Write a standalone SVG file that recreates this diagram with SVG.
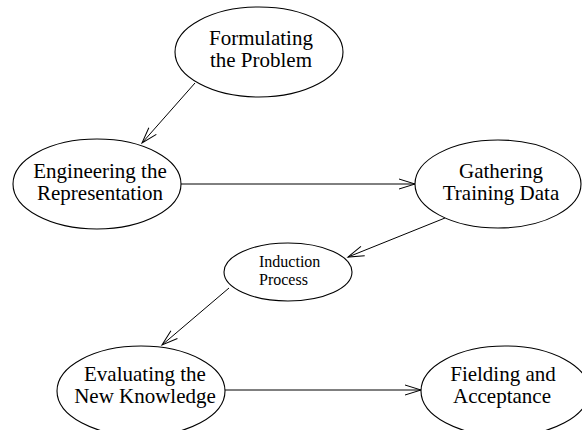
<svg xmlns="http://www.w3.org/2000/svg" width="582" height="430" viewBox="0 0 582 430">
  <style>
    .node ellipse { fill: #ffffff; stroke: #000000; stroke-width: 1.1; }
    .node text { font-family: "Liberation Serif", "Times New Roman", serif; font-size: 21px; fill: #000000; text-anchor: middle; }
    .node text.small { font-size: 16px; text-anchor: start; }
    .edge { stroke: #000000; stroke-width: 1; fill: none; marker-end: url(#arrow); }
  </style>
  <defs>
    <marker id="arrow" markerUnits="userSpaceOnUse" markerWidth="20" markerHeight="14" refX="17" refY="6" orient="auto">
      <path d="M1,1 L17,6 L1,11" fill="none" stroke="#000000" stroke-width="1"/>
    </marker>
  </defs>
  <rect width="582" height="430" fill="#ffffff"/>

  <g id="connectors">
    <line class="edge" x1="195" y1="83" x2="142" y2="143"/>
    <line class="edge" x1="181" y1="184" x2="415" y2="184"/>
    <line class="edge" x1="445" y1="218" x2="348" y2="257"/>
    <line class="edge" x1="229" y1="288" x2="162" y2="345"/>
    <line class="edge" x1="225" y1="390" x2="421" y2="390"/>
  </g>

  <g id="formulating" class="node">
    <ellipse cx="259" cy="52" rx="84" ry="45"/>
    <text x="261" y="45">Formulating</text>
    <text x="261" y="67">the Problem</text>
  </g>

  <g id="engineering" class="node">
    <ellipse cx="97" cy="184" rx="84" ry="45"/>
    <text x="100" y="178">Engineering the</text>
    <text x="100" y="200">Representation</text>
  </g>

  <g id="gathering" class="node">
    <ellipse cx="498" cy="184" rx="83" ry="44"/>
    <text x="501" y="178">Gathering</text>
    <text x="501" y="200">Training Data</text>
  </g>

  <g id="induction" class="node">
    <ellipse cx="288" cy="272" rx="64" ry="29"/>
    <text class="small" x="259" y="267">Induction</text>
    <text class="small" x="259" y="285">Process</text>
  </g>

  <g id="evaluating" class="node">
    <ellipse cx="141" cy="391" rx="84" ry="45"/>
    <text x="145" y="381">Evaluating the</text>
    <text x="145" y="403">New Knowledge</text>
  </g>

  <g id="fielding" class="node">
    <ellipse cx="505" cy="391" rx="84" ry="45"/>
    <text x="503" y="381">Fielding and</text>
    <text x="502" y="403">Acceptance</text>
  </g>
</svg>
